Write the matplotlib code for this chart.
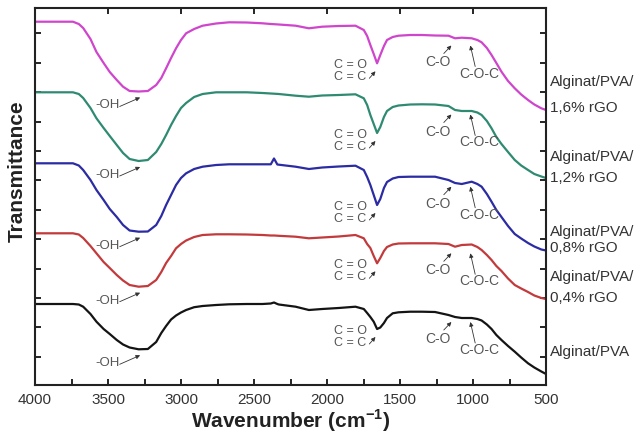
import numpy as np
import matplotlib
matplotlib.use("Agg")
import matplotlib.pyplot as plt
from matplotlib.transforms import blended_transform_factory

plt.rcParams['font.family'] = ['Liberation Sans', 'DejaVu Sans']
plt.rcParams['mathtext.fontset'] = 'custom'
plt.rcParams['mathtext.rm'] = 'Liberation Sans'
plt.rcParams['mathtext.bf'] = 'Liberation Sans:bold'

# ---------------- data (transmittance, arbitrary stacked units) ----------------
wavenumber = [4000, 3740, 3700, 3670, 3620, 3579, 3530, 3488, 3440, 3397, 3352, 3290,
              3227, 3170, 3135, 3102, 3068, 3034, 3000, 2965, 2910, 2852, 2760, 2670,
              2550, 2442, 2385, 2363, 2340, 2330, 2215, 2124, 2033, 1920, 1805, 1748,
              1725, 1703, 1680, 1657, 1635, 1610, 1589, 1550, 1510, 1430, 1350, 1260,
              1168, 1123, 1077, 1009, 970, 941, 905, 873, 840, 805, 760, 714, 670, 623,
              580, 532, 500]

t_16 = [363.3, 363.3, 361, 357, 346, 333, 322, 313, 305, 298.3, 294, 293.5,
        294, 300, 307, 316.7, 327, 336.7, 345, 351.7, 356, 359.3, 361.5, 362.7,
        362.5, 361.7, 361, 360.8, 360.6, 360.5, 359.3, 356.7, 358.3, 359, 359.3, 355,
        349, 340, 331, 321.7, 330, 339, 345, 348, 349.3, 350, 350, 349.5,
        349.3, 346.7, 347.3, 346.7, 345, 342.7, 337, 330, 322, 313.3, 304, 296.7, 290.5, 285,
        280.5, 276.7, 275]

t_12 = [292.7, 292.7, 291, 287, 277, 266.7, 257, 249, 240, 232, 226, 224,
        225, 233, 241, 250, 260, 269, 277, 282, 288, 291, 292.7, 292.7,
        292.7, 292, 291.5, 291.3, 291.1, 291, 289.3, 288.3, 289.5, 290, 290.7, 286.7,
        280, 270, 261, 252, 258, 268, 274, 278, 279.5, 280.5, 280.7, 280.5,
        279, 275, 274, 274, 272.5, 270, 264, 256.7, 248, 241, 233, 225, 219.5, 215,
        211, 208.5, 207]

t_08 = [221.7, 221.7, 219.5, 215, 205, 195, 185, 176, 168, 160, 154.5, 153.3,
        153.5, 160, 169, 180, 190, 200, 207, 211.7, 216, 218.3, 220, 220.7,
        220.7, 220.7, 220.7, 226.5, 220.5, 220.3, 218.3, 216, 217.5, 218.5, 219.3, 215,
        208, 200, 190, 180, 186, 197, 203, 206.5, 208, 208.3, 208.3, 208.3,
        205, 202, 201, 203.3, 201, 198.3, 191, 183.3, 175, 168, 159, 151, 146.5, 142,
        138.5, 135.5, 134.5]

t_04 = [151.7, 151.7, 150.5, 147, 139, 131.7, 123, 117, 110, 104.5, 100, 98.3,
        99, 105, 113, 122, 129, 136.7, 141, 144.5, 148, 150, 150.7, 150.7,
        150.5, 150, 149.5, 149.5, 149.3, 149.2, 148.3, 146.7, 147.5, 148.5, 150, 146.7,
        141, 137, 129, 121.7, 127, 134, 138, 140.5, 141.5, 141.7, 141.7, 141.7,
        141, 138.3, 140, 140.5, 138, 135, 130, 125, 119, 114, 106.5, 100, 96.5, 93,
        89.5, 87, 86]

t_00 = [81, 81, 80.5, 78.3, 71, 63.3, 56, 51, 45, 40.5, 37.5, 35.7,
        36, 43, 52, 59, 65.5, 69.5, 72.5, 75, 77.8, 79, 80, 80.7,
        81, 81, 81.5, 82.5, 81, 80.5, 78.3, 75, 76, 77, 78.3, 76,
        72, 68, 63.3, 56, 57.5, 62, 67, 71.7, 72.7, 73.3, 73.3, 73,
        70, 68, 67, 67, 66, 64.5, 60.5, 56, 50, 45, 39, 33.3, 27.5, 21.7,
        17.5, 13.5, 11]

series_values = [t_16, t_12, t_08, t_04, t_00]
series_colors = ['#cf45cc', '#2f8a72', '#2b2ba3', '#c23a3c', '#141414']
label_lines = [["Alginat/PVA/", "1,6% rGO"], ["Alginat/PVA/", "1,2% rGO"],
               ["Alginat/PVA/", "0,8% rGO"], ["Alginat/PVA/", "0,4% rGO"],
               ["Alginat/PVA"]]
x_ticks = [4000, 3500, 3000, 2500, 2000, 1500, 1000, 500]

# ---------------- figure ----------------
W, H = 642, 433
fig = plt.figure(figsize=(W / 100, H / 100), dpi=100)
ax = fig.add_axes([35 / W, 1 - 385 / H, 511 / W, 377 / H])

wn = np.array(wavenumber, dtype=float)
for vals, col in zip(series_values, series_colors):
    ax.plot(wn, vals, color=col, lw=1.6, solid_joinstyle='round')

ax.set_xlim(4000, 500)
ax.set_ylim(0, 377)

ax.set_xticks(x_ticks)
ax.set_xticks(np.arange(3750, 500, -500), minor=True)
ax.set_yticks(28.3 + 29.4 * np.arange(12))
ax.set_yticklabels([])
ax.tick_params(axis='x', which='major', direction='in', length=4, width=1.2,
               top=True, labelsize=11, labelcolor='#333333', pad=6)
ax.tick_params(axis='x', which='minor', direction='in', length=4, width=1.2,
               top=False)
ax.tick_params(axis='y', which='major', direction='in', length=4, width=1.2,
               right=True, left=True)
for sp in ax.spines.values():
    sp.set_linewidth(1.5)
    sp.set_color('#222222')

# annotations
tcol = '#555555'
afs = 9.5
aprops = dict(arrowstyle='-|>', color='#333333', lw=0.6, mutation_scale=6,
              shrinkA=0, shrinkB=0)
wr = wn[::-1]
for vals in series_values:
    v = np.array(vals, dtype=float)
    vr = v[::-1]
    oh_min = v[(wn > 3100) & (wn < 3500)].min()
    co_min = v[(wn > 1600) & (wn < 1700)].min()
    plat = np.interp(1260, wr, vr)
    # -OH
    ax.text(3505, oh_min - 14, '-OH', color=tcol, fontsize=afs, ha='center', va='center')
    ax.annotate('', xy=(3280, oh_min - 6), xytext=(3420, oh_min - 15), arrowprops=aprops)
    # C=O / C=C
    ax.text(1728, co_min - 1.5, 'C = O', color=tcol, fontsize=9, ha='right', va='center')
    ax.text(1728, co_min - 14, 'C = C', color=tcol, fontsize=9, ha='right', va='center')
    ax.annotate('', xy=(1668, co_min - 8), xytext=(1710, co_min - 15), arrowprops=aprops)
    # C-O
    ax.text(1240, plat - 27, 'C-O', color=tcol, fontsize=afs + 0.5, ha='center', va='center')
    ax.annotate('', xy=(1148, plat - 10), xytext=(1200, plat - 18), arrowprops=aprops)
    # C-O-C
    ax.text(958, plat - 38, 'C-O-C', color=tcol, fontsize=afs + 0.5, ha='center', va='center')
    ax.annotate('', xy=(1018, plat - 10), xytext=(985, plat - 31), arrowprops=aprops)

# right-hand sample labels
label_y = [[303, 277], [228, 207], [153, 137], [108, 87], [33]]
trans = blended_transform_factory(ax.transAxes, ax.transData)
for lines, ys in zip(label_lines, label_y):
    for line, y in zip(lines, ys):
        ax.text(1.008, y, line, transform=trans, fontsize=11, color='#333333',
                ha='left', va='center', clip_on=False)

fig.text(290.5 / W, 1 - 421 / H, r'Wavenumber (cm$^{\mathbf{-1}}$)', fontsize=15,
         fontweight='bold', ha='center', va='center', color='#222222')
fig.text(17 / W, 1 - 171 / H, 'Transmittance', fontsize=15, fontweight='bold',
         rotation=90, ha='center', va='center', color='#222222')

fig.savefig('out.png', dpi=100)
